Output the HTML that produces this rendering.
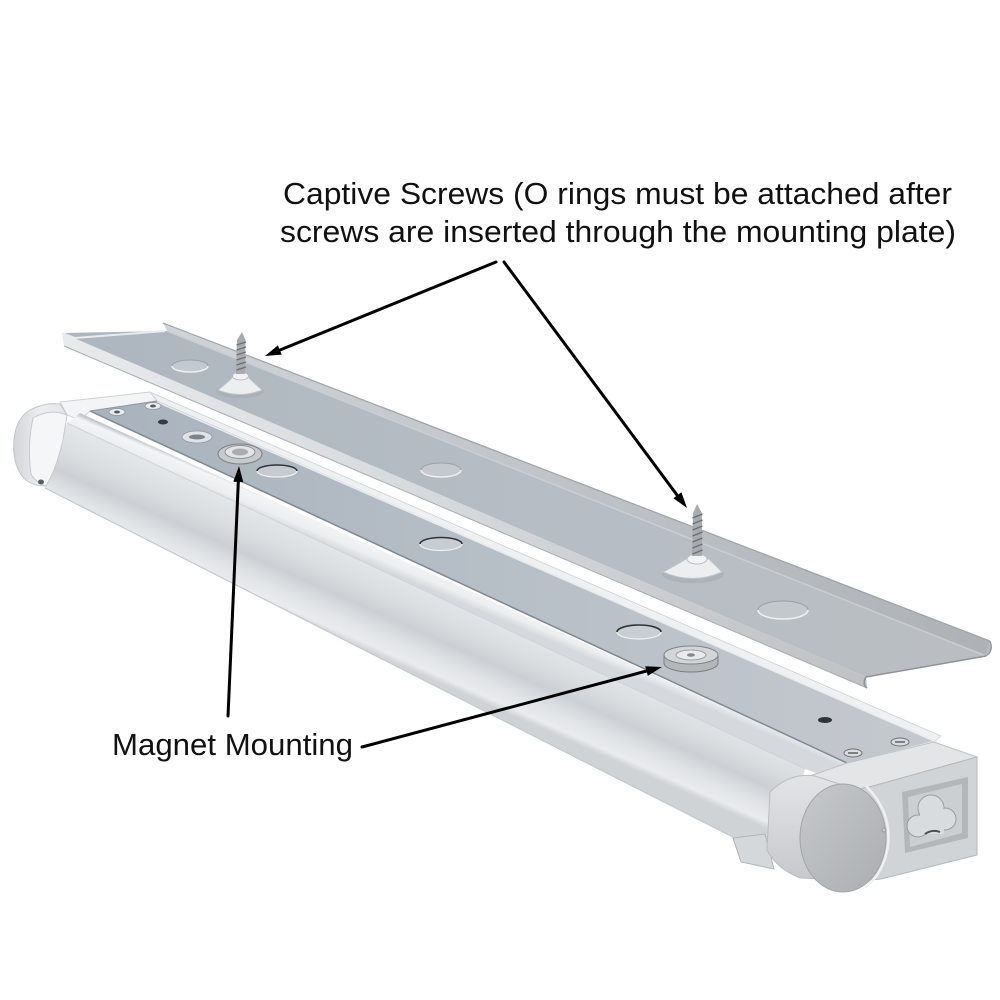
<!DOCTYPE html>
<html>
<head>
<meta charset="utf-8">
<style>
  html,body{margin:0;padding:0;background:#ffffff;}
  svg{display:block;}
  text{font-family:"Liberation Sans", Arial, sans-serif;fill:#111;}
</style>
</head>
<body>
<svg width="1000" height="1000" viewBox="0 0 1000 1000" xmlns="http://www.w3.org/2000/svg">
  <defs>
    <linearGradient id="floorG" gradientUnits="userSpaceOnUse" x1="62" y1="0" x2="990" y2="0">
      <stop offset="0" stop-color="#adb6bf"/>
      <stop offset="0.5" stop-color="#b6bdc4"/>
      <stop offset="1" stop-color="#babec2"/>
    </linearGradient>
    <linearGradient id="nearG" gradientUnits="userSpaceOnUse" x1="62" y1="0" x2="870" y2="0">
      <stop offset="0" stop-color="#e8eaec"/>
      <stop offset="0.5" stop-color="#d5d8db"/>
      <stop offset="1" stop-color="#bfc1c3"/>
    </linearGradient>
    <linearGradient id="farG" gradientUnits="userSpaceOnUse" x1="163" y1="0" x2="990" y2="0">
      <stop offset="0" stop-color="#d0d4d8"/>
      <stop offset="1" stop-color="#aeb2b6"/>
    </linearGradient>
    <linearGradient id="metalG" gradientUnits="userSpaceOnUse" x1="90" y1="0" x2="940" y2="0">
      <stop offset="0" stop-color="#a9b3bd"/>
      <stop offset="0.5" stop-color="#b7bfc7"/>
      <stop offset="1" stop-color="#c5c9ce"/>
    </linearGradient>
    <linearGradient id="railG" gradientUnits="userSpaceOnUse" x1="300" y1="509" x2="291" y2="530">
      <stop offset="0" stop-color="#c2c8ce"/>
      <stop offset="0.18" stop-color="#f3f4f6"/>
      <stop offset="0.65" stop-color="#eceef0"/>
      <stop offset="1" stop-color="#d5d9dd"/>
    </linearGradient>
    <linearGradient id="lensG" gradientUnits="userSpaceOnUse" x1="300" y1="532" x2="267" y2="606">
      <stop offset="0" stop-color="#e3e6e9"/>
      <stop offset="0.3" stop-color="#d9dde0"/>
      <stop offset="0.52" stop-color="#ccd0d4"/>
      <stop offset="0.75" stop-color="#e1e4e7"/>
      <stop offset="0.92" stop-color="#e9ebed"/>
      <stop offset="1" stop-color="#cfd3d6"/>
    </linearGradient>
    <linearGradient id="collarG" x1="0" y1="0" x2="0" y2="1">
      <stop offset="0" stop-color="#e2e4e6"/>
      <stop offset="1" stop-color="#c6c9cc"/>
    </linearGradient>
    <linearGradient id="discG" x1="0" y1="0" x2="1" y2="1">
      <stop offset="0" stop-color="#c6c9cc"/>
      <stop offset="1" stop-color="#abaeb1"/>
    </linearGradient>
    <linearGradient id="capG" x1="0" y1="0" x2="1" y2="0">
      <stop offset="0" stop-color="#d3d6d9"/>
      <stop offset="0.5" stop-color="#eceef0"/>
      <stop offset="1" stop-color="#e4e6e8"/>
    </linearGradient>
  </defs>

  <!-- ================= MOUNTING PLATE ================= -->
  <polygon points="163,323 990,641 986,656 167,331" fill="url(#farG)"/>
  <line x1="163" y1="323" x2="990" y2="641" stroke="#9ca3aa" stroke-width="1.2"/>
  <polygon points="62,333 167,331 986,656 866,677" fill="url(#floorG)"/>
  <line x1="167" y1="331" x2="986" y2="656" stroke="#c9ced3" stroke-width="1.5"/>
  <polygon points="62,333 866,677 867,688 64,346" fill="url(#nearG)"/>
  <line x1="64" y1="346" x2="867" y2="688" stroke="#a9adb1" stroke-width="1"/>
  <line x1="866" y1="677" x2="986" y2="656" stroke="#8e9398" stroke-width="1.5"/>
  <path d="M866,677 Q862,684 867,688" fill="none" stroke="#8e9398" stroke-width="1.5"/>
  <path d="M986,656 Q994,651 990,641" fill="#b5b9bd" stroke="#8e9398" stroke-width="1.2"/>
  <path d="M62,333 L75,338 L165,331" fill="none" stroke="#e9ecee" stroke-width="2"/>

  <!-- knockouts on plate -->
  <ellipse cx="190" cy="366" rx="18" ry="6" fill="#c3c9ce"/>
  <path d="M172,366 A18,6 0 0 0 208,366" fill="none" stroke="#eef0f2" stroke-width="1.5"/>
  <path d="M172,366 A18,6 0 0 1 208,366" fill="none" stroke="#9aa2aa" stroke-width="1"/>
  <ellipse cx="441" cy="470" rx="20" ry="7" fill="#c3c9ce"/>
  <path d="M421,470 A20,7 0 0 0 461,470" fill="none" stroke="#eef0f2" stroke-width="1.5"/>
  <path d="M421,470 A20,7 0 0 1 461,470" fill="none" stroke="#9aa2aa" stroke-width="1"/>
  <ellipse cx="783" cy="610" rx="25" ry="9" fill="#c3c8cc"/>
  <path d="M758,610 A25,9 0 0 0 808,610" fill="none" stroke="#eef0f2" stroke-width="1.5"/>
  <path d="M758,610 A25,9 0 0 1 808,610" fill="none" stroke="#9aa0a6" stroke-width="1"/>

  <!-- screw 1 -->
  <ellipse cx="240" cy="391" rx="24" ry="7" fill="#9fa7af" opacity="0.5"/>
  <path d="M218,390 Q226,384 233,377 L248,377 Q255,384 262,390 Q240,399 218,390 Z" fill="#eceef0" stroke="#c1c5c9" stroke-width="1"/>
  <ellipse cx="240.5" cy="376" rx="8" ry="4" fill="#f2f3f4" stroke="#b9bdc1" stroke-width="1"/>
  <polygon points="242,332 245.5,340 245,374 236,374 237,340" fill="#a9acaf"/>
  <g stroke="#6c7075" stroke-width="1.3">
    <line x1="236.5" y1="345" x2="246" y2="342"/>
    <line x1="236.5" y1="350" x2="246" y2="347"/>
    <line x1="236.5" y1="355" x2="246" y2="352"/>
    <line x1="236.5" y1="360" x2="246" y2="357"/>
    <line x1="236.5" y1="365" x2="246" y2="362"/>
    <line x1="236.5" y1="370" x2="246" y2="367"/>
  </g>

  <!-- screw 2 -->
  <ellipse cx="693" cy="574" rx="31" ry="9" fill="#9fa7af" opacity="0.5"/>
  <path d="M663,572 Q675,566 686,559 L709,559 Q716,566 722,572 Q693,585 663,572 Z" fill="#eceef0" stroke="#c1c5c9" stroke-width="1"/>
  <ellipse cx="697" cy="559" rx="10" ry="5" fill="#f2f3f4" stroke="#b9bdc1" stroke-width="1"/>
  <polygon points="697,504 702,513 702,556 692,556 693,513" fill="#a9acaf"/>
  <g stroke="#6c7075" stroke-width="1.4">
    <line x1="692.5" y1="518" x2="702.5" y2="514"/>
    <line x1="692.5" y1="524" x2="702.5" y2="520"/>
    <line x1="692.5" y1="530" x2="702.5" y2="526"/>
    <line x1="692.5" y1="536" x2="702.5" y2="532"/>
    <line x1="692.5" y1="542" x2="702.5" y2="538"/>
    <line x1="692.5" y1="548" x2="702.5" y2="544"/>
    <line x1="692.5" y1="554" x2="702.5" y2="550"/>
  </g>

  <!-- ================= FIXTURE ================= -->
  <polygon points="150,392 941,736 934,742 157,401" fill="#eef0f2" stroke="#cdd1d5" stroke-width="0.8"/>
  <polygon points="60,402 150,392 157,401 90,411 80,420 67,415" fill="#f3f4f5" stroke="#cdd1d5" stroke-width="1"/>
  <!-- lens -->
  <polygon points="67,423 805,769 782,862 45,488" fill="url(#lensG)"/>
  <line x1="45" y1="488" x2="782" y2="862" stroke="#c5c9cd" stroke-width="1.2"/>
  <!-- rail -->
  <polygon points="80,413 847,763 830,778 805,769 67,423" fill="url(#railG)"/>
  <line x1="67" y1="423" x2="805" y2="769" stroke="#cfd3d7" stroke-width="1"/>
  <!-- metal strip -->
  <polygon points="90,411 157,401 934,741 847,763" fill="url(#metalG)"/>
  <line x1="157" y1="402" x2="934" y2="741" stroke="#e9ecef" stroke-width="1.5"/>
  <line x1="90" y1="411" x2="847" y2="763" stroke="#7f8891" stroke-width="1.5"/>
  <line x1="90" y1="411" x2="157" y2="401" stroke="#8f98a1" stroke-width="1"/>

  <!-- metal strip features -->
  <ellipse cx="117" cy="412" rx="8" ry="3.5" fill="#e9ebed" stroke="#8c949c" stroke-width="0.8"/>
  <ellipse cx="117" cy="412" rx="3" ry="1.5" fill="#555b61"/>
  <ellipse cx="153" cy="406" rx="8" ry="3.5" fill="#e9ebed" stroke="#8c949c" stroke-width="0.8"/>
  <ellipse cx="153" cy="406" rx="3" ry="1.5" fill="#555b61"/>
  <ellipse cx="163" cy="422" rx="5" ry="2.5" fill="#363b40"/>
  <ellipse cx="197" cy="437" rx="15" ry="6" fill="#dfe3e6" stroke="#8f979f" stroke-width="0.8"/>
  <ellipse cx="197" cy="437" rx="8" ry="2.5" fill="#7b838b"/>
  <ellipse cx="240" cy="454" rx="22" ry="10" fill="#c7cacd" stroke="#7a7f84" stroke-width="1"/>
  <ellipse cx="240" cy="452" rx="15" ry="6.5" fill="#e3e4e6" stroke="#8d9196" stroke-width="1"/>
  <ellipse cx="240" cy="452" rx="8" ry="3.5" fill="#a9acaf"/>
  <ellipse cx="277" cy="471" rx="20" ry="6" fill="#c5cbd1"/>
  <path d="M257,471 A20,6 0 0 1 297,471" fill="none" stroke="#2f3439" stroke-width="1.6"/>
  <path d="M257,471 A20,6 0 0 0 297,471" fill="none" stroke="#eef0f2" stroke-width="1.2"/>
  <ellipse cx="441" cy="544" rx="21" ry="6.5" fill="#c7cdd2"/>
  <path d="M420,544 A21,6.5 0 0 1 462,544" fill="none" stroke="#2f3439" stroke-width="1.6"/>
  <path d="M420,544 A21,6.5 0 0 0 462,544" fill="none" stroke="#eef0f2" stroke-width="1.2"/>
  <ellipse cx="639" cy="632" rx="22" ry="7" fill="#c9ced3"/>
  <path d="M617,632 A22,7 0 0 1 661,632" fill="none" stroke="#2f3439" stroke-width="1.6"/>
  <path d="M617,632 A22,7 0 0 0 661,632" fill="none" stroke="#eef0f2" stroke-width="1.2"/>
  <path d="M664,655 L664,663 A27,9 0 0 0 718,663 L718,655 Z" fill="#b4b7ba" stroke="#7a7f84" stroke-width="1"/>
  <ellipse cx="691" cy="655" rx="27" ry="9" fill="#d3d5d7" stroke="#80858a" stroke-width="1"/>
  <ellipse cx="691" cy="655" rx="15" ry="5" fill="#e9eaeb" stroke="#9a9ea2" stroke-width="1"/>
  <ellipse cx="691" cy="655" rx="4" ry="1.8" fill="#85898d"/>
  <ellipse cx="825" cy="720" rx="7" ry="3" fill="#2e3338"/>
  <ellipse cx="853" cy="753" rx="9" ry="4" fill="#dadcde" stroke="#6d7277" stroke-width="1"/>
  <line x1="848" y1="753" x2="858" y2="753" stroke="#4a4f54" stroke-width="1.3"/>
  <ellipse cx="900" cy="742" rx="9" ry="4" fill="#dadcde" stroke="#6d7277" stroke-width="1"/>
  <line x1="895" y1="742" x2="905" y2="742" stroke="#4a4f54" stroke-width="1.3"/>

  <!-- left end cap -->
  <path d="M14,440 Q16,418 30,410 Q45,402 60,404 L67,415 L45,486 Q30,486 22,476 Q12,462 14,440 Z" fill="url(#capG)" stroke="#c3c7cb" stroke-width="1"/>
  <path d="M33,418 Q50,408 67,415 L63,440 Q56,470 46,486 Q36,483 31,474 Q27,446 33,418 Z" fill="#f5f6f7" stroke="#c6cacd" stroke-width="1"/>
  <ellipse cx="41" cy="482" rx="3" ry="2.5" fill="#5a5f64"/>

  <!-- right end assembly -->
  <polygon points="733,838 765,834 774,869 741,862" fill="#d5d8db" stroke="#b1b5b9" stroke-width="1"/>
  <polygon points="810,776 847,763 934,742 977,757 873,786 855,790" fill="#e3e5e7" stroke="#bec2c6" stroke-width="1"/>
  <polygon points="855,790 873,786 977,757 977,855 881,879 860,881" fill="#d1d4d7" stroke="#b4b8bc" stroke-width="1"/>
  <path d="M770,792 Q790,772 815,776 L858,790 L852,880 L800,878 Q776,868 767,850 Z" fill="url(#collarG)" stroke="#b9bdc1" stroke-width="1"/>
  <path d="M866,786 Q892,812 888,846 Q884,872 866,887" fill="none" stroke="#eef0f2" stroke-width="2.5"/>
  <ellipse cx="843" cy="838" rx="43" ry="54" fill="url(#discG)" stroke="#a2a5a8" stroke-width="1"/>
  <circle cx="884" cy="830" r="2" fill="#c6c9cc" stroke="#8f9296" stroke-width="0.8"/>
  <polygon points="902,792 968,777 968,838 905,853" fill="#b3b7ba"/>
  <polygon points="908,797 962,784 962,833 910,847" fill="#cbcfd2"/>
  <g fill="#d9dcde" stroke="#9a9ea2" stroke-width="1">
    <circle cx="918" cy="826" r="11"/>
    <circle cx="945" cy="819" r="11"/>
    <circle cx="931" cy="808" r="13"/>
  </g>
  <g fill="#d9dcde">
    <circle cx="918" cy="826" r="10"/>
    <circle cx="945" cy="819" r="10"/>
    <circle cx="931" cy="808" r="12"/>
    <rect x="920" y="814" width="24" height="20"/>
  </g>
  <path d="M925,834 Q932,829 940,832" fill="none" stroke="#4c5156" stroke-width="2"/>

  <!-- ================= ARROWS ================= -->
  <g stroke="#000" stroke-width="3" fill="none" stroke-linecap="round">
    <line x1="496" y1="262" x2="280" y2="350"/>
    <line x1="504" y1="262" x2="677" y2="495"/>
    <line x1="228" y1="716" x2="238.3" y2="482"/>
    <line x1="362" y1="747" x2="646.5" y2="671"/>
  </g>
  <g fill="#000">
    <polygon points="265,356 281.7,354.6 277.9,345.4"/>
    <polygon points="687,508 681.4,492.2 673.4,498.2"/>
    <polygon points="239,466 243.3,482.2 233.3,481.8"/>
    <polygon points="662,667 647.8,675.9 645.2,666.3"/>
  </g>

  <!-- ================= TEXT ================= -->
  <text x="283" y="204" font-size="31" textLength="669" lengthAdjust="spacingAndGlyphs">Captive Screws (O rings must be attached after</text>
  <text x="280" y="242" font-size="31" textLength="676" lengthAdjust="spacingAndGlyphs">screws are inserted through the mounting plate)</text>
  <text x="112" y="755" font-size="31" textLength="241" lengthAdjust="spacingAndGlyphs">Magnet Mounting</text>
</svg>
</body>
</html>
